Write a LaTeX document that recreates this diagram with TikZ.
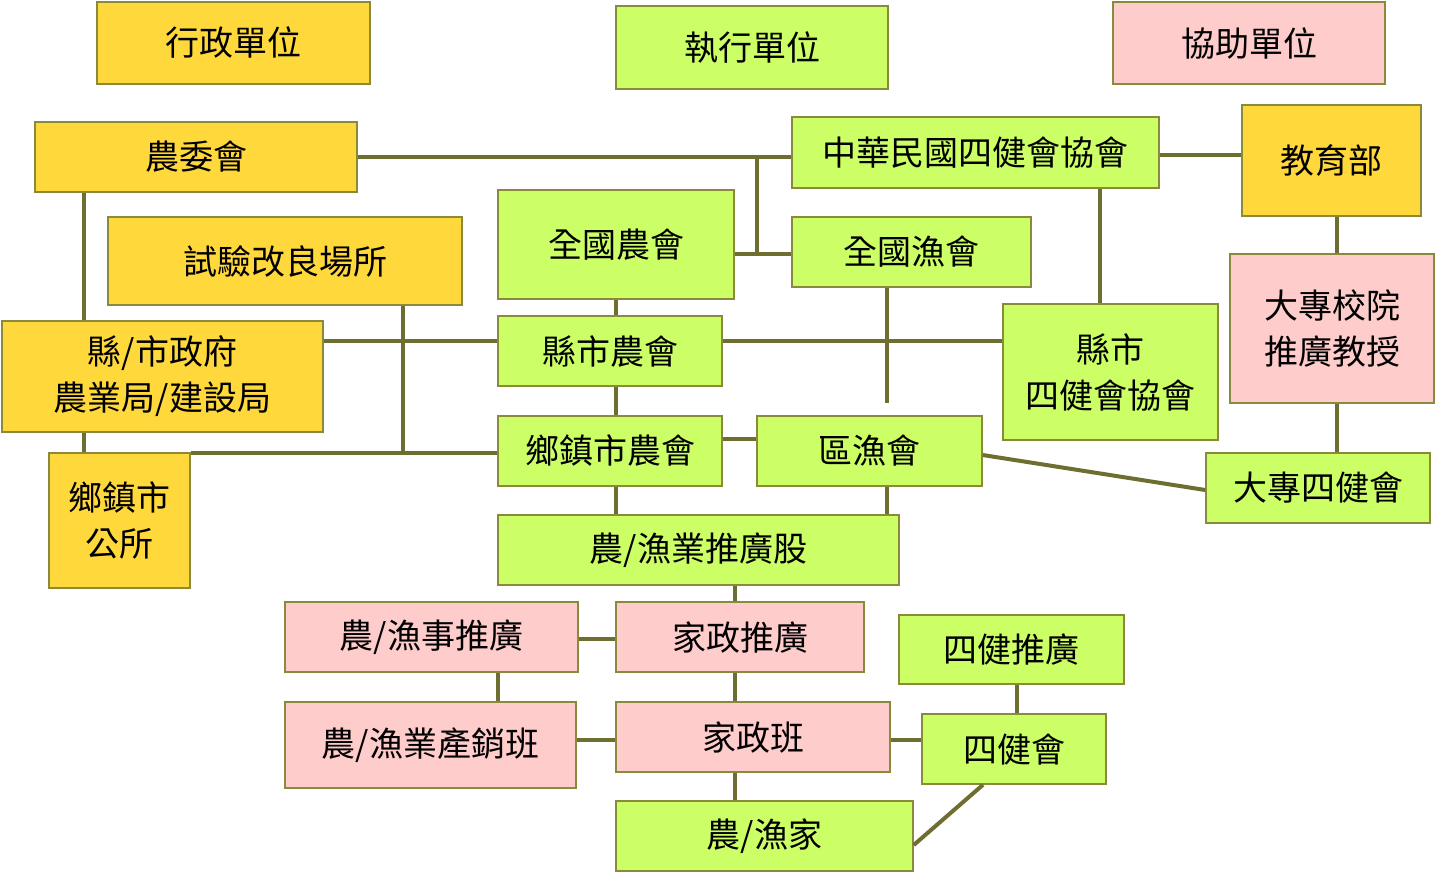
\documentclass[tikz,border=0pt]{standalone}
\usepackage{fontspec}
\newfontfamily\cjk{Noto Sans CJK TC}
\definecolor{yel}{HTML}{FFD93B}
\definecolor{grn}{HTML}{CCFF66}
\definecolor{pnk}{HTML}{FFCCCC}
\definecolor{bdr}{HTML}{8A8A3C}
\definecolor{lnc}{HTML}{6E6E30}
\newcommand{\bx}[7]{\node[box,fill=#6,minimum width={(#4-#2)*1pt},minimum height={(#5-#3)*1pt}] (#1) at ({(#2+#4)/2*1pt},{-(#3+#5)/2*1pt}) {#7};}
\newcommand{\xc}[1]{\coordinate (x#1) at (#1pt,0);}
\newcommand{\yc}[1]{\coordinate (y#1) at (0,-#1pt);}
\begin{document}
\begin{tikzpicture}[x=1pt,y=1pt,
 box/.style={draw=bdr,line width=1.5pt,inner sep=0pt,align=center,font=\cjk\fontsize{34}{46}\selectfont},
 ln/.style={draw=lnc,line width=4pt}]
\useasboundingbox (0,0) rectangle (1448,-887);
\bx{a1}{97}{2}{370}{84}{yel}{行政單位}
\bx{a2}{616}{6}{888}{89}{grn}{執行單位}
\bx{a3}{1113}{2}{1385}{84}{pnk}{協助單位}
\bx{nwh}{35}{122}{357}{192}{yel}{農委會}
\bx{zh}{792}{117}{1159}{188}{grn}{中華民國四健會協會}
\bx{jyb}{1242}{105}{1421}{216}{yel}{教育部}
\bx{sy}{108}{217}{462}{305}{yel}{試驗改良場所}
\bx{qgn}{498}{190}{734}{299}{grn}{全國農會}
\bx{qgy}{792}{217}{1031}{287}{grn}{全國漁會}
\bx{xsz}{2}{321}{323}{432}{yel}{縣/市政府\\農業局/建設局}
\bx{xsn}{498}{316}{722}{386}{grn}{縣市農會}
\bx{xsj}{1003}{304}{1218}{440}{grn}{縣市\\四健會協會}
\bx{dzj}{1230}{254}{1434}{403}{pnk}{大專校院\\推廣教授}
\bx{xzn}{498}{416}{722}{486}{grn}{鄉鎮市農會}
\bx{qy}{757}{416}{982}{486}{grn}{區漁會}
\bx{gs}{49}{453}{190}{588}{yel}{鄉鎮市\\公所}
\bx{dz4}{1206}{453}{1430}{523}{grn}{大專四健會}
\bx{tgg}{498}{515}{899}{585}{grn}{農/漁業推廣股}
\bx{nst}{285}{602}{578}{672}{pnk}{農/漁事推廣}
\bx{jzt}{616}{602}{864}{672}{pnk}{家政推廣}
\bx{sjt}{899}{615}{1124}{684}{grn}{四健推廣}
\bx{cxb}{285}{702}{576}{788}{pnk}{農/漁業產銷班}
\bx{jzb}{616}{702}{890}{772}{pnk}{家政班}
\bx{sjh}{922}{714}{1106}{784}{grn}{四健會}
\bx{nyj}{616}{801}{913}{871}{grn}{農/漁家}
\xc{84}\xc{757}\xc{1100}\xc{1337}\xc{616}\xc{887}\xc{403}\xc{735}\xc{498}\xc{1017}
\yc{157}\yc{254}\yc{155}\yc{341}\yc{453}\yc{439}\yc{639}\yc{740}
\begin{scope}[on background layer/.style={}]
\draw[ln] (nwh.east |- y157) -- (zh.west |- y157);
\draw[ln] (x757 |- y157) -- (x757 |- y254);
\draw[ln] (qgn.east |- y254) -- (qgy.west |- y254);
\draw[ln] (zh.east |- y155) -- (jyb.west |- y155);
\draw[ln] (x84 |- nwh.south) -- (x84 |- xsz.north);
\draw[ln] (x1337 |- jyb.south) -- (x1337 |- dzj.north);
\draw[ln] (x1100 |- zh.south) -- (x1100 |- xsj.north);
\draw[ln] (x616 |- qgn.south) -- (x616 |- xsn.north);
\draw[ln] (xsz.east |- y341) -- (xsn.west |- y341);
\draw[ln] (xsn.east |- y341) -- (xsj.west |- y341);
\draw[ln] (x887 |- qgy.south) -- (x887 |- 0,-403);
\draw[ln] (x403 |- sy.south) -- (x403 |- y453);
\draw[ln] (x616 |- xsn.south) -- (x616 |- xzn.north);
\draw[ln] (x84 |- xsz.south) -- (x84 |- gs.north);
\draw[ln] (gs.north east |- y453) -- (xzn.west |- y453);
\draw[ln] (xzn.east |- y439) -- (qy.west |- y439);
\draw[ln] (x1337 |- dzj.south) -- (x1337 |- dz4.north);
\draw[ln] (qy.east |- 0,-455) -- (dz4.west |- 0,-490);
\draw[ln] (x616 |- xzn.south) -- (x616 |- tgg.north);
\draw[ln] (x887 |- qy.south) -- (x887 |- tgg.north);
\draw[ln] (x735 |- tgg.south) -- (x735 |- jzt.north);
\draw[ln] (nst.east |- y639) -- (jzt.west |- y639);
\draw[ln] (x498 |- nst.south) -- (x498 |- cxb.north);
\draw[ln] (x735 |- jzt.south) -- (x735 |- jzb.north);
\draw[ln] (cxb.east |- y740) -- (jzb.west |- y740);
\draw[ln] (jzb.east |- y740) -- (sjh.west |- y740);
\draw[ln] (x1017 |- sjt.south) -- (x1017 |- sjh.north);
\draw[ln] (sjh.south -| 983,0) -- (nyj.east |- 0,-845);
\draw[ln] (x735 |- jzb.south) -- (x735 |- nyj.north);
\end{scope}
\end{tikzpicture}
\end{document}
